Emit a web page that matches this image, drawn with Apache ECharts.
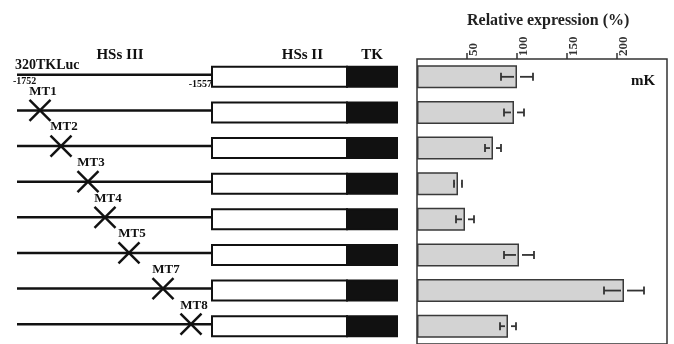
<!DOCTYPE html>
<html><head><meta charset="utf-8">
<script src="https://cdn.jsdelivr.net/npm/echarts@6/dist/echarts.min.js"></script>
<style>html,body{margin:0;padding:0;background:#fff}#c{width:674px;height:344px}</style>
</head><body><div id="c"></div>
<script>
const constructs = ['320TKLuc','MT1','MT2','MT3','MT4','MT5','MT7','MT8'];
const expression = [100, 97, 76, 41, 48, 102, 207, 91];
const errors = [16, 10, 8, 4, 9, 15, 20, 8];
const mutationPos = [null, -1729, -1708, -1681, -1664, -1640, -1606, -1578];
const segmentEdges = [-1752, -1557, -1422, -1372];
const tickValues = [50, 100, 150, 200];

const SERIF = '"Liberation Serif", "DejaVu Serif", serif';
const INK = '#111';

function renderConstruct(params, api) {
  const i = api.value(0);
  const y = api.coord([segmentEdges[0], i])[1];
  const xs = segmentEdges.map(e => api.coord([e, i])[0]);
  const h = 20;
  const ly = y - 2;
  const ch = [
    {type:'line', shape:{x1:xs[0], y1:ly, x2:xs[1], y2:ly}, style:{stroke:INK, lineWidth:2.5}},
    {type:'rect', shape:{x:xs[1], y:y-h/2, width:xs[2]-xs[1], height:h}, style:{fill:'#fff', stroke:INK, lineWidth:2}},
    {type:'rect', shape:{x:xs[2], y:y-h/2, width:xs[3]-xs[2], height:h}, style:{fill:INK, stroke:INK, lineWidth:2}}
  ];
  const m = mutationPos[i];
  if (m != null) {
    const xm = api.coord([m, i])[0];
    const s = 10.5;
    ch.push({type:'line', shape:{x1:xm-s, y1:ly-s, x2:xm+s, y2:ly+s}, style:{stroke:INK, lineWidth:2.4}});
    ch.push({type:'line', shape:{x1:xm-s, y1:ly+s, x2:xm+s, y2:ly-s}, style:{stroke:INK, lineWidth:2.4}});
    ch.push({type:'text', style:{x:xm+3, y:ly-19, text:constructs[i], fill:INK, font:'bold 13px ' + SERIF, align:'center', verticalAlign:'middle'}});
  } else {
    ch.push({type:'text', style:{x:xs[0]-2, y:ly-9, text:constructs[i], fill:INK, font:'bold 14px ' + SERIF, align:'left', verticalAlign:'middle'}});
    ch.push({type:'text', style:{x:xs[0]-4, y:ly+7, text:String(segmentEdges[0]), fill:INK, font:'bold 10px ' + SERIF, align:'left', verticalAlign:'middle'}});
    ch.push({type:'text', style:{x:xs[1], y:ly+10, text:String(segmentEdges[1]), fill:INK, font:'bold 10px ' + SERIF, align:'right', verticalAlign:'middle'}});
    ch.push({type:'text', style:{x:xs[0]+103, y:ly-20, text:'HSs III', fill:INK, font:'bold 15px ' + SERIF, align:'center', verticalAlign:'middle'}});
    ch.push({type:'text', style:{x:xs[2]-24, y:ly-20, text:'HSs II', fill:INK, font:'bold 15px ' + SERIF, align:'right', verticalAlign:'middle'}});
    ch.push({type:'text', style:{x:(xs[2]+xs[3])/2, y:ly-20, text:'TK', fill:INK, font:'bold 15px ' + SERIF, align:'center', verticalAlign:'middle'}});
  }
  return {type:'group', children:ch};
}

function renderError(params, api) {
  const v = api.value(0), i = api.value(1), e = api.value(2);
  const c = api.coord([v, i]);
  const lo = api.coord([v - e, i])[0];
  const hi = api.coord([v + e, i])[0];
  const y = c[1];
  const gap = 3, cap = 4;
  const st = {stroke:'#333', lineWidth:1.8};
  const ch = [];
  if (c[0] - gap > lo) ch.push({type:'line', shape:{x1:lo, y1:y, x2:c[0]-gap, y2:y}, style:st});
  if (hi > c[0] + gap) ch.push({type:'line', shape:{x1:c[0]+gap, y1:y, x2:hi, y2:y}, style:st});
  ch.push({type:'line', shape:{x1:lo, y1:y-cap, x2:lo, y2:y+cap}, style:st});
  ch.push({type:'line', shape:{x1:hi, y1:y-cap, x2:hi, y2:y+cap}, style:st});
  if (i === 0) {
    const p = api.coord([226, i]);
    ch.push({type:'text', style:{x:p[0], y:p[1]+4, text:'mK', fill:INK, font:'bold 15px ' + SERIF, align:'center', verticalAlign:'middle'}});
  }
  return {type:'group', children:ch};
}

const chart = echarts.init(document.getElementById('c'), null, {renderer:'canvas'});
chart.setOption({
  animation:false,
  backgroundColor:'#fff',
  title:{text:'Relative expression (%)', left:462, top:8,
    textStyle:{fontFamily:SERIF, fontWeight:'bold', fontSize:16, color:'#222'}},
  grid:[
    {left:16, top:59, width:382, height:286},
    {left:417, top:59, width:250, height:286, show:true, borderColor:'#333', borderWidth:1.5, backgroundColor:'transparent'}
  ],
  xAxis:[
    {gridIndex:0, type:'value', min:-1753, max:-1371, show:false},
    {gridIndex:1, type:'value', min:0, max:250, interval:50, position:'top',
      axisLine:{show:false}, splitLine:{show:false},
      axisTick:{show:true, length:6, customValues:tickValues, lineStyle:{color:'#333', width:1.5}},
      axisLabel:{rotate:-90, margin:3, verticalAlign:'top', customValues:tickValues, fontFamily:SERIF, fontWeight:'bold', fontSize:13, color:'#333'}}
  ],
  yAxis:[
    {gridIndex:0, type:'category', data:constructs, inverse:true, show:false},
    {gridIndex:1, type:'category', data:constructs, inverse:true, show:false}
  ],
  series:[
    {type:'custom', xAxisIndex:0, yAxisIndex:0, renderItem:renderConstruct,
      data:constructs.map((c, i) => [i]), encode:{y:0}},
    {type:'bar', xAxisIndex:1, yAxisIndex:1, data:expression, barWidth:23,
      itemStyle:{color:'#d3d3d3', borderColor:'#3a3a3a', borderWidth:1.5}},
    {type:'custom', xAxisIndex:1, yAxisIndex:1, renderItem:renderError, z:5,
      data:expression.map((v, i) => [v, i, errors[i]]), encode:{x:0, y:1}}
  ]
});
</script></body></html>
